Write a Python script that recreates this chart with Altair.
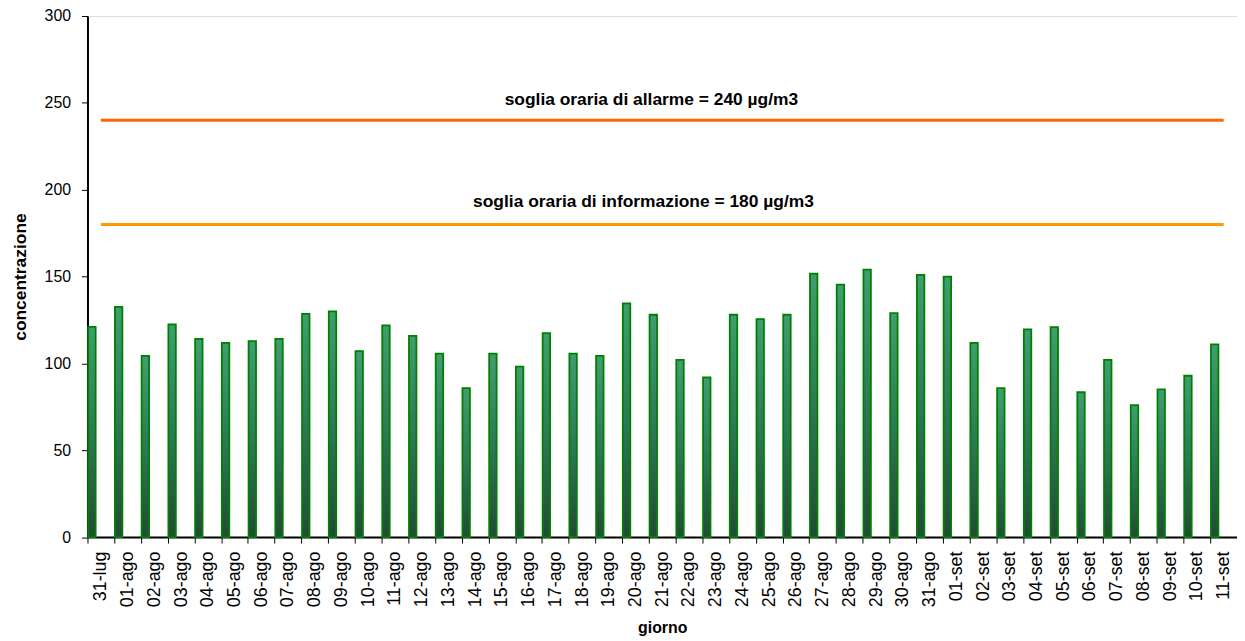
import altair as alt
import pandas as pd

days = ["31-lug", "01-ago", "02-ago", "03-ago", "04-ago", "05-ago", "06-ago", "07-ago",
        "08-ago", "09-ago", "10-ago", "11-ago", "12-ago", "13-ago", "14-ago", "15-ago",
        "16-ago", "17-ago", "18-ago", "19-ago", "20-ago", "21-ago", "22-ago", "23-ago",
        "24-ago", "25-ago", "26-ago", "27-ago", "28-ago", "29-ago", "30-ago", "31-ago",
        "01-set", "02-set", "03-set", "04-set", "05-set", "06-set", "07-set", "08-set",
        "09-set", "10-set", "11-set"]
values = [121, 132.5, 104.3, 122.5, 114.1, 111.8, 112.8, 114.1, 128.5, 130,
          107.1, 121.9, 115.8, 105.6, 85.8, 105.6, 98.2, 117.4, 105.6, 104.3,
          134.6, 128, 102, 91.9, 128, 125.5, 128, 151.7, 145.4, 154,
          128.9, 151, 150, 111.8, 85.8, 119.6, 120.9, 83.4, 102, 76,
          85.1, 92.9, 110.9]

thr_values = [240, 180]
thr_names = ["allarme", "informazione"]
thr_labels = ["soglia oraria di allarme = 240 µg/m3",
              "soglia oraria di informazione = 180 µg/m3"]
thr_colors = ["#FF6600", "#FF9900"]

FONT = "Liberation Sans"

df = pd.DataFrame({"giorno": days, "concentrazione": values})
thr = pd.DataFrame({"nome": thr_names, "valore": thr_values, "testo": thr_labels,
                    "start": days[0], "end": days[-1], "anchor": days[20]})

x_enc = alt.X("giorno:N", sort=days,
              scale=alt.Scale(domain=days, paddingInner=0, paddingOuter=0),
              axis=alt.Axis(title="giorno", labelAngle=270, tickBand="extent",
                            labelFontSize=18, labelFont=FONT, labelColor="#000",
                            labelPadding=8, tickSize=6, tickColor="#000",
                            domainColor="#000", domainWidth=2,
                            titleFont=FONT, titleFontSize=16, titleFontWeight="bold",
                            titlePadding=13, titleColor="#000"))
y_enc = alt.Y("concentrazione:Q",
              scale=alt.Scale(domain=[0, 300], nice=False),
              axis=alt.Axis(title="concentrazione", values=[0, 50, 100, 150, 200, 250, 300],
                            grid=False, tickSize=6, tickColor="#000", labelPadding=11,
                            labelFontSize=16, labelFont=FONT, labelColor="#000",
                            domainColor="#000", domainWidth=2,
                            titleFont=FONT, titleFontSize=17.5, titleFontWeight="bold",
                            titlePadding=15, titleColor="#000"))

grad = alt.Gradient(gradient="linear",
                    stops=[alt.GradientStop(color="#3f9e70", offset=0),
                           alt.GradientStop(color="#2c7a55", offset=0.5),
                           alt.GradientStop(color="#234a37", offset=1)],
                    x1=0, x2=0, y1=0, y2=1)

bars = alt.Chart(df).mark_bar(width=7.5, xOffset=-9, fill=grad, stroke="#008000",
                              strokeWidth=1.8).encode(x=x_enc, y=y_enc)

rules = alt.Chart(thr).mark_rule(strokeWidth=3).encode(
    x=alt.X("start:N", sort=days),
    x2="end:N",
    y=alt.Y("valore:Q"),
    color=alt.Color("nome:N", scale=alt.Scale(domain=thr_names, range=thr_colors), legend=None),
)

text_a = alt.Chart(thr).transform_filter(alt.datum.nome == "allarme").mark_text(
    font=FONT, fontSize=17.5, fontWeight="bold", color="#000", baseline="alphabetic",
    align="center", dx=16, dy=-15).encode(
    x=alt.X("anchor:N", sort=days), y="valore:Q", text="testo:N")

text_i = alt.Chart(thr).transform_filter(alt.datum.nome == "informazione").mark_text(
    font=FONT, fontSize=17.5, fontWeight="bold", color="#000", baseline="alphabetic",
    align="center", dx=8, dy=-18).encode(
    x=alt.X("anchor:N", sort=days), y="valore:Q", text="testo:N")

chart = alt.layer(bars, rules, text_a, text_i).properties(
    width=1157, height=524.5,
    autosize=alt.AutoSizeParams(type="none"),
    padding={"left": 80, "top": 6, "right": 0, "bottom": 100},
).configure_view(stroke="#444444", strokeWidth=2).configure(background="white")

chart.save("out.html", embed_options={"renderer": "svg", "actions": False})
